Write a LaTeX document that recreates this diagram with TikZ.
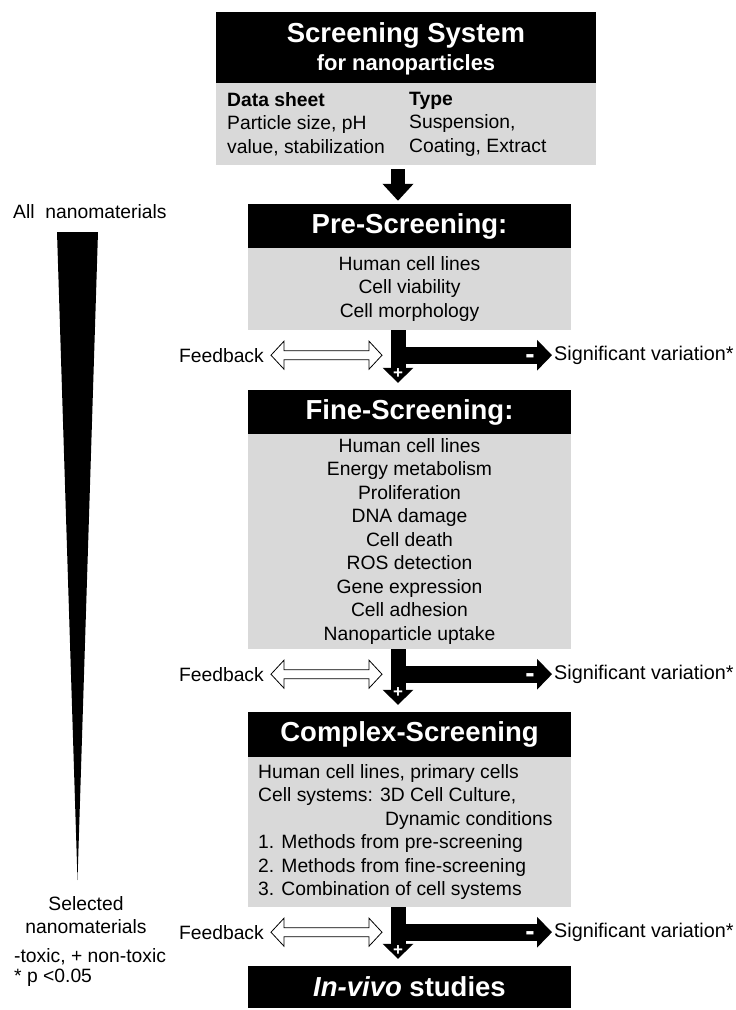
\documentclass[tikz,border=0pt]{standalone}
\usepackage{fontspec}
\setmainfont{Liberation Sans}
\usetikzlibrary{arrows.meta,calc}
\definecolor{boxgray}{HTML}{D9D9D9}
\begin{document}
\begin{tikzpicture}[x=1pt,y=-1pt,
  hdr/.style={fill=black, text=white, inner sep=0pt, minimum width=323pt, font=\bfseries\fontsize{27.5}{30}\selectfont},
  bodybox/.style={fill=boxgray, inner sep=0pt, minimum width=323pt, align=center, font=\fontsize{19.3}{23.5}\selectfont},
  txt/.style={inner sep=0pt, font=\fontsize{19.3}{23.5}\selectfont},
  sign/.style={text=white, inner sep=0pt, font=\bfseries\fontsize{17}{17}\selectfont},
  minussign/.style={text=white, inner sep=0pt, font=\bfseries\fontsize{28}{28}\selectfont},
  downarrow/.style={line width=15pt, -{Triangle[width=30pt,length=15pt]}},
  sidearrow/.style={line width=17pt, -{Triangle[width=30pt,length=15pt]}},
  hollow/.style={draw=black, fill=white, line width=0.8pt, line join=miter}
]
\useasboundingbox (0,0) rectangle (736,1010);
\coordinate (ax) at (398,0);

% ---------- top box
\node[hdr, minimum width=380pt, minimum height=71pt] (tophdr) at (406,47.5) {};
\node[inner sep=0pt, text=white, font=\bfseries\fontsize{27.5}{30}\selectfont] (toptitle) at (406,35) {Screening System};
\node[inner sep=0pt, text=white, font=\bfseries\fontsize{22}{24}\selectfont] (topsub) at (406,65) {for nanoparticles};
\node[bodybox, minimum width=380pt, minimum height=82pt] (topbody) at (406,124) {};
\node[txt, anchor=west, align=left] (datasheet) at (227,124) {\textbf{Data sheet}\\Particle size, pH\\value, stabilization};
\node[txt, anchor=west, align=left] (typecol) at (409,124) {\textbf{Type}\\Suspension,\\Coating, Extract};

% ---------- pre-screening
\node[hdr, minimum height=44pt] (prehdr) at (409.5,226) {Pre-Screening:};
\draw[line width=14pt, -{Triangle[width=30pt,length=17pt]}, shorten <=4pt, shorten >=3pt] (topbody.south -| ax) -- (prehdr.north -| ax);
\node[bodybox, minimum height=82pt] (prebody) at (409.5,289) {Human cell lines\\Cell viability\\Cell morphology};

% ---------- fine-screening
\node[hdr, minimum height=44pt] (finehdr) at (409.5,412) {Fine-Screening:};
\node[bodybox, minimum height=215pt] (finebody) at (409.5,541.5) {Human cell lines\\Energy metabolism\\Proliferation\\DNA damage\\Cell death\\ROS detection\\Gene expression\\Cell adhesion\\Nanoparticle uptake};

% ---------- complex-screening
\node[hdr, minimum height=45pt] (cplxhdr) at (409.5,734.5) {Complex-Screening};
\node[bodybox, minimum height=150pt] (cplxbody) at (409.5,832) {};
\node[txt, anchor=west, align=left] (cplxtxt) at (258,832) {Human cell lines, primary cells\\Cell systems: 3D Cell Culture,\\\hspace*{127pt}Dynamic conditions\\1. Methods from pre-screening\\2. Methods from fine-screening\\3. Combination of cell systems};

% ---------- in-vivo
\node[hdr, minimum height=42pt] (invivo) at (409.5,987) {\textit{In-vivo} studies};

% ---------- feedback rows
\foreach \b/\n/\k in {prebody/finehdr/1, finebody/cplxhdr/2, cplxbody/invivo/3}{
  \coordinate (row\k) at ($(\b.south -| ax)+(0,25)$);
  \node[txt, anchor=east] (fb\k) at ($(row\k -| 0,0)+(264,0)$) {Feedback};
  \node[txt, anchor=west, inner xsep=2pt, font=\fontsize{19.8}{23.5}\selectfont] (sig\k) at ($(row\k -| 0,0)+(552,0)$) {Significant variation*};
  \draw[downarrow, shorten >=7pt] (\b.south -| ax) -- (\n.north -| ax);
  \draw[sidearrow] (row\k) -- (sig\k.west);
  \node[sign] (plus\k) at ($(\b.south -| ax)+(0,43)$) {+};
  \node[minussign] (minus\k) at ($(sig\k.west)+(-22,4)$) {-};
  \coordinate (hl\k) at ($(fb\k.east)+(7,0)$);
  \coordinate (hr\k) at ($(row\k)+(-16,0)$);
  \draw[hollow] (hl\k) -- ++(13,-14) -- ++(0,9.5) -- ($(hr\k)+(-13,-4.5)$) -- ++(0,-9.5) -- (hr\k)
     -- ++(-13,14) -- ++(0,-9.5) -- ($(hl\k)+(13,4.5)$) -- ++(0,9.5) -- cycle;
}

% ---------- left side
\node[txt, anchor=west] (allnano) at (13,212) {All\ \ nanomaterials};
\coordinate (wl) at (57,232);
\coordinate (wr) at (98,232);
\coordinate (wtip) at (77.5,880);
\fill (wl) -- (wr) -- (wtip) -- cycle;
\node[txt, align=center] (selected) at (86,915) {Selected\\nanomaterials};
\node[inner sep=0pt, anchor=west, align=left, font=\fontsize{19.3}{20}\selectfont] (legend) at (14,967.5) {-toxic, + non-toxic\\* p <0.05};
\end{tikzpicture}
\end{document}
